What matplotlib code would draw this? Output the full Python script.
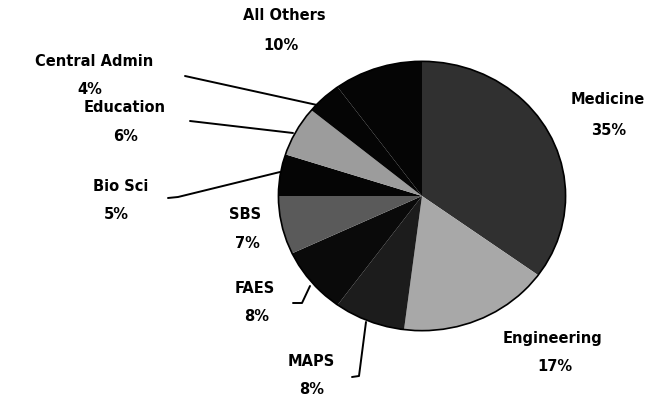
import matplotlib
matplotlib.use("Agg")
import matplotlib.pyplot as plt
from matplotlib.patches import Circle

# Data
categories = ["Medicine", "Engineering", "MAPS", "FAES", "SBS",
              "Bio Sci", "Education", "Central Admin", "All Others"]
shares = [35, 17, 8, 8, 7, 5, 6, 4, 10]

# Slice fills (the original uses dithered greys)
fills = ["#303030", "#a8a8a8", "#1c1c1c", "#0a0a0a", "#5a5a5a",
         "#050505", "#9c9c9c", "#050505", "#050505"]

# Label placement in pixel coords: (name x, name y, pct x, pct y)
label_pos = {
    "Medicine": (608, 99, 609, 131),
    "Engineering": (552, 339, 555, 367),
    "MAPS": (311, 362, 312, 390),
    "FAES": (255, 289, 257, 317),
    "SBS": (245, 215, 247, 244),
    "Bio Sci": (121, 187, 116, 215),
    "Education": (125, 108, 126, 137),
    "Central Admin": (94, 61, 90, 90),
    "All Others": (284, 16, 281, 45),
}

# Leader lines in pixel coords
leaders = {
    "Central Admin": [(185, 77), (317, 106)],
    "Education": [(190, 122), (293, 134)],
    "Bio Sci": [(168, 199), (178, 198), (280, 173)],
    "FAES": [(293, 304), (302, 304), (310, 287)],
    "MAPS": [(352, 378), (359, 377), (366, 323)],
}

W, H = 658, 402
fig = plt.figure(figsize=(W / 100, H / 100), dpi=100)

# pie axes: box matches the slightly squashed pie of the original
cx, cy, rx, ry = 422, 197, 145, 136
ax = fig.add_axes([(cx - rx) / W, (H - cy - ry) / H, 2 * rx / W, 2 * ry / H])
ax.pie(shares, colors=fills, startangle=90, counterclock=False,
       wedgeprops=dict(edgecolor="none"))
ax.add_patch(Circle((0, 0), 1, fill=False, edgecolor="black", linewidth=1.2))
ax.set_xlim(-1.01, 1.01)
ax.set_ylim(-1.01, 1.01)
ax.set_aspect("auto")
ax.axis("off")

# overlay in pixel coordinates for labels and leader lines
ov = fig.add_axes([0, 0, 1, 1])
ov.set_xlim(0, W)
ov.set_ylim(H, 0)
ov.axis("off")
ov.patch.set_alpha(0)

for name, pct in zip(categories, shares):
    nx, ny, px, py = label_pos[name]
    ov.text(nx, ny, name, ha="center", va="center", fontsize=10.5,
            fontweight="bold", family="DejaVu Sans")
    ov.text(px, py, f"{pct}%", ha="center", va="center", fontsize=10.5,
            fontweight="bold", family="DejaVu Sans")

for name, pts in leaders.items():
    xs = [p[0] for p in pts]
    ys = [p[1] for p in pts]
    ov.plot(xs, ys, color="black", linewidth=1.4, solid_capstyle="round")

fig.savefig("out.png", dpi=100, facecolor="white")
